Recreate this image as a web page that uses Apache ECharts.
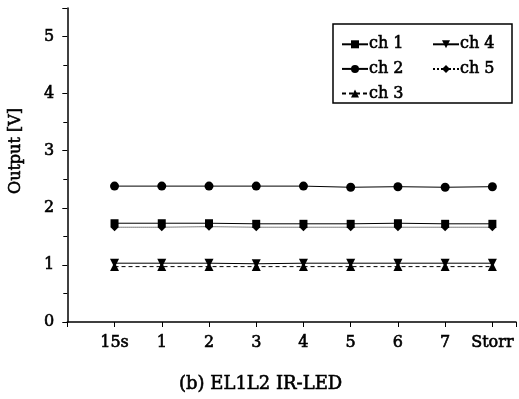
<!DOCTYPE html>
<html><head><meta charset="utf-8">
<script src="https://cdn.jsdelivr.net/npm/echarts@6/dist/echarts.min.js"></script>
<style>html,body{margin:0;padding:0;background:#fff}#c{width:519px;height:399px}</style>
</head><body><div id="c"></div>
<script>
const categories = ['15s','1','2','3','4','5','6','7','Storr'];
const ch1 = [1.73,1.73,1.73,1.72,1.72,1.72,1.73,1.72,1.72];
const ch2 = [2.38,2.38,2.38,2.38,2.38,2.36,2.37,2.36,2.37];
const ch3 = [0.97,0.97,0.97,0.97,0.97,0.97,0.97,0.97,0.97];
const ch4 = [1.03,1.03,1.03,1.02,1.03,1.03,1.03,1.03,1.03];
const ch5 = [1.66,1.66,1.67,1.66,1.66,1.66,1.66,1.66,1.66];
const yTicks = [0,1,2,3,4,5];

const FONT = 'DejaVu Serif';
function pts(arr){ return arr.map((v,i)=>[i+1,v]); }
const mk = (name, data, symbol, size, type, rot) => ({
  name, type:'line', data: pts(data), symbol, symbolSize: size, symbolRotate: rot||0,
  lineStyle:{color:'#000', width:1, type}, itemStyle:{color:'#000'}, animation:false
});
const chart = echarts.init(document.getElementById('c'));
const ts = (size) => ({fontFamily:FONT, fontSize:size, fontWeight:'normal', color:'#000', textBorderColor:'#000', textBorderWidth:0.6});
chart.setOption({
  backgroundColor:'#fff',
  textStyle:{fontFamily:FONT, color:'#000'},
  grid:{left:67, right:1, top:8, bottom:77, containLabel:false},
  title:{text:'(b) EL1L2 IR-LED', left:179, top:375, padding:0, textStyle:ts(18)},
  legend:[
    {left:336, top:31, orient:'vertical', itemGap:8, itemWidth:26, itemHeight:10, data:['ch 1','ch 2','ch 3'],
     textStyle:Object.assign({padding:[0,0,0,-4]}, ts(16))},
    {left:427, top:31, orient:'vertical', itemGap:8, itemWidth:26, itemHeight:10, data:['ch 4','ch 5'],
     textStyle:Object.assign({padding:[0,0,0,-4]}, ts(16))}
  ],
  graphic:[{type:'rect', shape:{x:333, y:24, width:179, height:79}, style:{fill:'none', stroke:'#000', lineWidth:1.5}, z:100}],
  xAxis:{type:'value', min:0, max:9.5, interval:1,
    axisLine:{lineStyle:{color:'#000', width:1.5}},
    axisTick:{inside:false, length:5, lineStyle:{color:'#000'}},
    splitLine:{show:false},
    axisLabel:Object.assign({margin:13,
      formatter:v=> (Number.isInteger(v) && v>=1 && v<=9) ? categories[v-1] : ''}, ts(16))
  },
  yAxis:{type:'value', min:0, max:5.5, interval:1, name:'Output [V]', nameLocation:'middle', nameGap:43,
    nameTextStyle:Object.assign({padding:[0,0,0,28]}, ts(16)),
    axisLine:{show:true, lineStyle:{color:'#000', width:1.5}},
    axisTick:{show:true, length:5, lineStyle:{color:'#000'}},
    minorTick:{show:true, splitNumber:2, length:4, lineStyle:{color:'#000'}},
    splitLine:{show:false},
    axisLabel:Object.assign({margin:13,
      formatter:v=> yTicks.includes(v) ? String(v) : ''}, ts(16))
  },
  series:[
    mk('ch 1', ch1, 'rect', 8, 'solid'),
    mk('ch 2', ch2, 'circle', 9, 'solid'),
    mk('ch 3', ch3, 'triangle', 9, [4,3]),
    mk('ch 4', ch4, 'triangle', 9, 'solid', 180),
    mk('ch 5', ch5, 'diamond', 8, 'dotted')
  ]
});
</script></body></html>
